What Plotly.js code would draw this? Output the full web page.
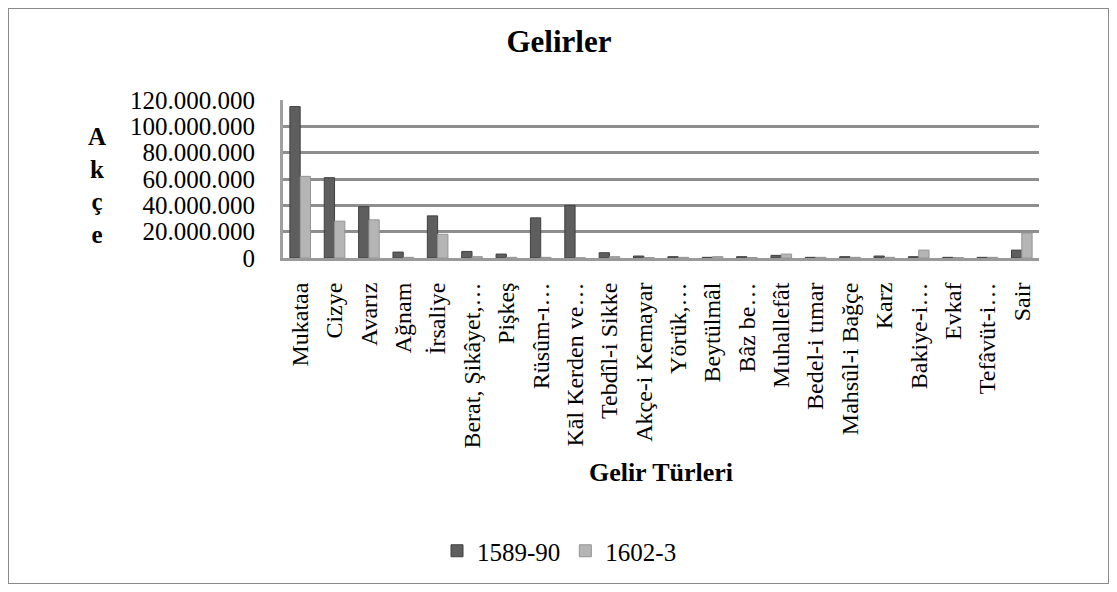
<!DOCTYPE html>
<html>
<head>
<meta charset="utf-8">
<script src="https://cdn.plot.ly/plotly-3.0.1.min.js"></script>
<style>
  html, body { margin: 0; padding: 0; background: #fff; }
  #wrap { position: relative; width: 1117px; height: 592px; }
  #chart { width: 1117px; height: 592px; }
  #frame { position: absolute; left: 8px; top: 8px; width: 1099px; height: 574px;
           border: 1px solid #8a8a8a; pointer-events: none; }
</style>
</head>
<body>
<div id="wrap">
  <div id="chart"></div>
  <div id="frame"></div>
</div>
<script>
const categories = [
  "Mukataa", "Cizye", "Avarız", "Ağnam", "İrsaliye", "Berat, Şikâyet,…",
  "Pişkeş", "Rüsûm-ı…", "Kāl Kerden ve…", "Tebdîl-i Sikke", "Akçe-i Kemayar",
  "Yörük,…", "Beytülmâl", "Bâz be…", "Muhallefât", "Bedel-i tımar",
  "Mahsûl-i Bağçe", "Karz", "Bakiye-i…", "Evkaf", "Tefâvüt-i…", "Sair"
];
const series1Name = "1589-90";
const series2Name = "1602-3";
const values1589 = [
  115000000, 61000000, 39000000, 4500000, 32000000, 5000000,
  3000000, 30500000, 40000000, 4000000, 1500000,
  1000000, 500000, 1000000, 2000000, 500000,
  1000000, 1500000, 1000000, 500000, 500000, 6000000
];
const values1602 = [
  62000000, 28000000, 29000000, 500000, 18000000, 1000000,
  500000, 500000, 200000, 1000000, 300000,
  500000, 1000000, 300000, 3000000, 500000,
  500000, 500000, 6000000, 300000, 500000, 19000000
];
const yTickVals = [0, 20000000, 40000000, 60000000, 80000000, 100000000, 120000000];
const yTickText = ["0", "20.000.000", "40.000.000", "60.000.000", "80.000.000", "100.000.000", "120.000.000"];

const FONT = "'Liberation Serif', 'Times New Roman', serif";

const traces = [
  {
    type: "bar", name: series1Name, x: categories, y: values1589,
    marker: { color: "#5e5e5e", line: { color: "#404040", width: 1 } }
  },
  {
    type: "bar", name: series2Name, x: categories, y: values1602,
    marker: { color: "#b5b5b5", line: { color: "#949494", width: 1 } }
  }
];

const layout = {
  width: 1117, height: 592,
  margin: { l: 283, r: 78, t: 100, b: 334 },
  paper_bgcolor: "#ffffff", plot_bgcolor: "#ffffff",
  font: { family: FONT, color: "#000000" },
  title: { text: "<b>Gelirler</b>", font: { family: FONT, size: 31, color: "#000" },
           x: 559 / 1117, xref: "container", xanchor: "center",
           y: 1 - 41 / 592, yref: "container", yanchor: "middle" },
  barmode: "group", bargap: 0.4, bargroupgap: 0,
  showlegend: true,
  legend: { orientation: "h", x: (437 - 283) / 756, xanchor: "left", y: (258 - 551) / 158, yanchor: "middle",
            font: { family: FONT, size: 25, color: "#000" }, itemwidth: 30, traceorder: "normal" },
  xaxis: {
    type: "category", tickangle: -90, automargin: false,
    tickfont: { family: FONT, size: 24, color: "#000" },
    ticklabelstandoff: 12,
    showgrid: false, showline: true, linecolor: "#9a9a9a", linewidth: 3,
    ticks: "",
    title: { text: "<b>Gelir Türleri</b>", font: { family: FONT, size: 26, color: "#000" }, standoff: 16 }
  },
  yaxis: {
    range: [0, 120000000], tickvals: yTickVals, ticktext: yTickText, automargin: false,
    tickfont: { family: FONT, size: 25, color: "#000" },
    ticklabelstandoff: 20,
    showgrid: true, gridcolor: "#8e8e8e", gridwidth: 3,
    showline: true, linecolor: "#a0a0a0", linewidth: 3, ticks: "",
    zeroline: false
  },
  annotations: [
    { text: "<b>A<br>k<br>ç<br>e</b>", xref: "paper", yref: "paper",
      x: (97 - 283) / 756, y: (258 - 185) / 158, xanchor: "center", yanchor: "middle",
      showarrow: false, font: { family: FONT, size: 25, color: "#000" } }
  ]
};

Plotly.newPlot("chart", traces, layout, { displayModeBar: false, staticPlot: true });
</script>
</body>
</html>
